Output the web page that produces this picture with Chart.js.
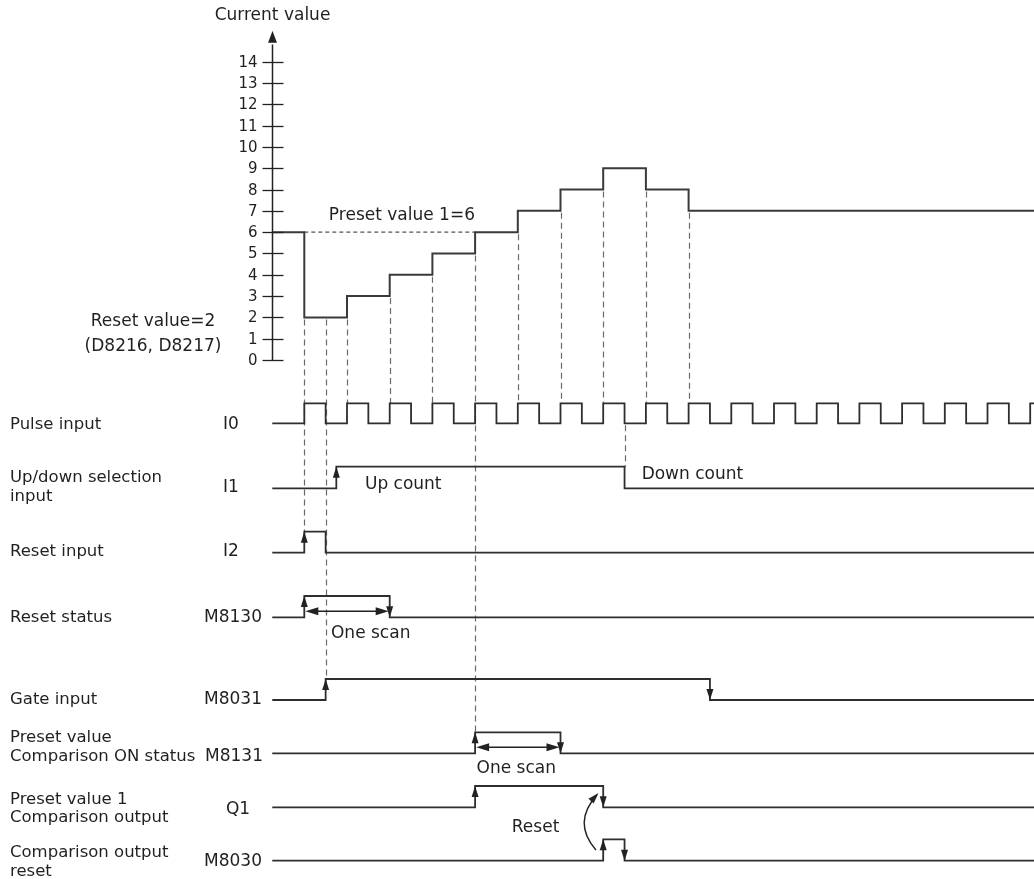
<!DOCTYPE html>
<html><head><meta charset="utf-8">
<script src="https://cdn.jsdelivr.net/npm/chart.js@4/dist/chart.umd.min.js"></script>
<style>html,body{margin:0;padding:0;background:#fff}#wrap{width:1034px;height:879px;position:relative}</style>
</head><body><div id="wrap"><canvas id="c" width="1034" height="879"></canvas></div>
<script>
// ---------------- data ----------------
const valueTicks  = [0,1,2,3,4,5,6,7,8,9,10,11,12,13,14];
const countTimes  = [-1.5, 0, 2, 4, 6, 8, 10, 12, 14, 16, 18];   // time in half pulse periods
const countValues = [6,    2, 3, 4, 5, 6, 7,  8,  9,  8,  7];
const presetValue1 = 6;
const presetSpan   = [0, 8];
const resetValue   = 2;

const signalNames  = ['I0','I1','I2','M8130','M8031','M8131','Q1','M8030'];
const signalLabels = [['Pulse input'],['Up/down selection','input'],['Reset input'],['Reset status'],
                      ['Gate input'],['Preset value','Comparison ON status'],['Preset value 1','Comparison output'],
                      ['Comparison output','reset']];
// transition times (each toggles state, starting low)
const pulseEdges = [0,1,2,3,4,5,6,7,8,9,10,11,12,13,14,15,16,17,18,19,20,21,22,23,24,25,26,27,28,29,30,31,32,33,34];
const upDownEdges   = [1.5, 15];
const resetInEdges  = [0, 1];
const resetStEdges  = [0, 4];
const gateEdges     = [1, 19];
const cmpOnEdges    = [8, 12];
const q1Edges       = [8, 14];
const cmpResetEdges = [14, 15];
const signalEdges = [pulseEdges, upDownEdges, resetInEdges, resetStEdges, gateEdges, cmpOnEdges, q1Edges, cmpResetEdges];
// edges drawn with arrow heads: [signal index, time]
const arrowEdges = [[1,1.5],[2,0],[3,0],[3,4],[4,1],[4,19],[5,8],[5,12],[6,8],[6,14],[7,14],[7,15]];
// dashed guide lines: time, signal whose high level ends the line
const guideTimes = [0, 1, 2, 4, 6, 8, 10, 12, 14, 16, 18];
const guideEnds  = [2, 4, 0, 0, 0, 5, 0,  0,  0,  0,  0];
const upDownGuide = 15;
// "One scan" spans: [signal index, from, to]
const oneScanSpans = [[3,0,4],[5,8,12]];

// ---------------- layout ----------------
const W=1034, H=879;
const X0=304.3, PXT=21.35;   // pixel of t=0, pixels per time unit
const Y0=360,  PXV=21.31;    // pixel of value 0, pixels per count
const tStart=-1.5, tEnd=(W-X0)/PXT+0.2;
const laneLow  = [423.3, 488.3, 552.7, 617.3, 700, 753.3, 807.3, 860.7];
const laneHigh = [403.3, 466.7, 531.7, 596,   679, 732.3, 786,   839.3];
const FONT = '"DejaVu Sans", Verdana, sans-serif';
const TXT = '#231f20', LINE = '#2e2e2e', DASH = '#6a6a6a';

function lanePts(i){
  let s=0; const pts=[{x:tStart,y:laneLow[i]}];
  for(const e of signalEdges[i]){ s=1-s; pts.push({x:e,y:s?laneHigh[i]:laneLow[i]}); }
  pts.push({x:tEnd,y:s?laneHigh[i]:laneLow[i]});
  return pts;
}
const countPts = countTimes.map((t,i)=>({x:t,y:countValues[i]}));
countPts.push({x:tEnd,y:countValues[countValues.length-1]});

const datasets = [{data:countPts, yAxisID:'y', stepped:true, borderColor:'#3a3a3a', borderWidth:2, pointRadius:0, clip:false, fill:false}];
signalNames.forEach((n,i)=>datasets.push({label:n, data:lanePts(i), yAxisID:'lane', stepped:true, borderColor:LINE, borderWidth:1.8, pointRadius:0, clip:false, fill:false}));

function tri(ctx,x,y,dx,dy,len,hw){
  const m=Math.hypot(dx,dy); dx/=m; dy/=m;
  const bx=x-dx*len, by=y-dy*len;
  ctx.beginPath(); ctx.moveTo(x,y); ctx.lineTo(bx-dy*hw,by+dx*hw); ctx.lineTo(bx+dy*hw,by-dx*hw); ctx.closePath(); ctx.fill();
}
function countAt(t){ let v=countValues[0]; for(let i=0;i<countTimes.length;i++){ if(countTimes[i]<=t) v=countValues[i]; } return v; }
function countLowAt(t){ let before=countValues[0]; for(let i=0;i<countTimes.length;i++){ if(countTimes[i]<t) before=countValues[i]; } return Math.min(before,countAt(t)); }

const decor = {
  id:'decor',
  beforeDatasetsDraw(chart){
    const ctx=chart.ctx, sx=chart.scales.x, sy=chart.scales.y, sl=chart.scales.lane;
    ctx.save();
    ctx.strokeStyle=DASH; ctx.lineWidth=1.2; ctx.setLineDash([6,4]);
    guideTimes.forEach((t,i)=>{
      const x=Math.round(sx.getPixelForValue(t))+0.5;
      ctx.beginPath(); ctx.moveTo(x, sy.getPixelForValue(countLowAt(t))+2); ctx.lineTo(x, sl.getPixelForValue(laneHigh[guideEnds[i]])); ctx.stroke();
    });
    { const x=Math.round(sx.getPixelForValue(upDownGuide))+0.5;
      ctx.beginPath(); ctx.moveTo(x, sl.getPixelForValue(laneLow[0])+2); ctx.lineTo(x, sl.getPixelForValue(laneHigh[1])); ctx.stroke(); }
    // preset dashed level
    ctx.setLineDash([4,3]); ctx.strokeStyle='#555';
    ctx.beginPath(); ctx.moveTo(sx.getPixelForValue(presetSpan[0]), sy.getPixelForValue(presetValue1)); ctx.lineTo(sx.getPixelForValue(presetSpan[1]), sy.getPixelForValue(presetValue1)); ctx.stroke();
    ctx.restore();
  },
  afterDatasetsDraw(chart){
    const ctx=chart.ctx, sx=chart.scales.x, sy=chart.scales.y, sl=chart.scales.lane;
    ctx.save();
    // value axis
    const ax=Math.round(sx.getPixelForValue(tStart))+0.5;
    ctx.strokeStyle='#222'; ctx.fillStyle='#222'; ctx.lineWidth=1.5;
    ctx.beginPath(); ctx.moveTo(ax, sy.getPixelForValue(0)); ctx.lineTo(ax, sy.getPixelForValue(14.8)); ctx.stroke();
    tri(ctx, ax, sy.getPixelForValue(15.45), 0, -1, 12, 4.5);
    ctx.font='15px '+FONT; ctx.textAlign='right'; ctx.textBaseline='middle'; ctx.lineWidth=1.3;
    valueTicks.forEach(v=>{
      const y=Math.round(sy.getPixelForValue(v))+0.5;
      ctx.strokeStyle='#222'; ctx.beginPath(); ctx.moveTo(ax-10,y); ctx.lineTo(ax+11,y); ctx.stroke();
      ctx.fillStyle=TXT; ctx.fillText(String(v), ax-15, y+0.5);
    });
    ctx.font='17px '+FONT; ctx.textAlign='center'; ctx.fillStyle=TXT;
    ctx.fillText('Current value', ax, 16);
    // reset value text
    ctx.textAlign='center';
    ctx.fillText('Reset value='+resetValue, 153, sy.getPixelForValue(resetValue)+4);
    ctx.fillText('(D8216, D8217)', 153, sy.getPixelForValue(resetValue)+29);
    ctx.textAlign='left';
    ctx.fillText('Preset value 1='+presetValue1, sx.getPixelForValue(1.15), sy.getPixelForValue(presetValue1+0.78));
    // signal labels
    ctx.font='16.5px '+FONT;
    const labelY=[[425],[478,497],[552],[618],[700],[738,757],[800,818],[853,872]];
    signalLabels.forEach((ls,i)=>ls.forEach((l,j)=>{ ctx.textAlign='left'; ctx.fillText(l, 10, labelY[i][j]); }));
    ctx.font='17px '+FONT;
    const nameX=[231,231,231,233,233,234,238,233], nameY=[425,488,552,618,700,757,810,862];
    signalNames.forEach((n,i)=>{ ctx.textAlign='center'; ctx.fillText(n, nameX[i], nameY[i]); });
    // edge arrows
    ctx.fillStyle='#222';
    arrowEdges.forEach(([i,t])=>{
      const edges=signalEdges[i]; const k=edges.indexOf(t); const rising=(k%2===0);
      const x=sx.getPixelForValue(t);
      if(rising) tri(ctx,x,sl.getPixelForValue(laneHigh[i]),0,-1,11,3.5);
      else tri(ctx,x,sl.getPixelForValue(laneLow[i]),0,1,11,3.5);
    });
    // one-scan double arrows
    ctx.strokeStyle='#222'; ctx.lineWidth=1.5;
    oneScanSpans.forEach(([i,a,b])=>{
      const y=sl.getPixelForValue(laneLow[i])-6, xa=sx.getPixelForValue(a)+1, xb=sx.getPixelForValue(b)-1;
      ctx.beginPath(); ctx.moveTo(xa+8,y); ctx.lineTo(xb-8,y); ctx.stroke();
      tri(ctx,xa,y,-1,0,13,4); tri(ctx,xb,y,1,0,13,4);
    });
    ctx.fillStyle=TXT; ctx.font='17px '+FONT; ctx.textAlign='left';
    ctx.fillText('One scan', sx.getPixelForValue(1.25), 634);
    ctx.fillText('One scan', sx.getPixelForValue(8.07), 769);
    ctx.fillText('Up count', sx.getPixelForValue(2.84), 485);
    ctx.fillText('Down count', sx.getPixelForValue(15.8), 475);
    ctx.fillText('Reset', sx.getPixelForValue(9.72), 828);
    // curved reset arrow
    const cx=sx.getPixelForValue(13.66);
    ctx.strokeStyle='#222'; ctx.lineWidth=1.5;
    ctx.beginPath(); ctx.moveTo(cx,850); ctx.quadraticCurveTo(cx-24,822.5,cx+1,795); ctx.stroke();
    ctx.fillStyle='#222'; tri(ctx,cx+2.5,793,25,-27.5,11,3.5);
    ctx.restore();
  }
};

new Chart(document.getElementById('c'), {
  type:'line',
  data:{datasets},
  options:{
    responsive:false, animation:false, events:[], devicePixelRatio:1,
    layout:{padding:0},
    plugins:{legend:{display:false}, tooltip:{enabled:false}, title:{display:false}},
    scales:{
      x:{type:'linear', display:false, min:-X0/PXT, max:(W-X0)/PXT},
      y:{type:'linear', display:false, min:-(H-Y0)/PXV, max:Y0/PXV},
      lane:{type:'linear', display:false, min:0, max:H, reverse:true}
    }
  },
  plugins:[decor]
});
</script></body></html>
